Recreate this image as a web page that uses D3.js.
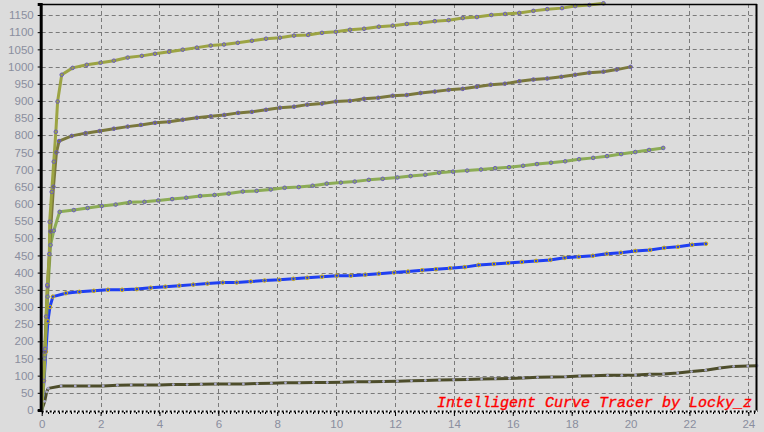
<!DOCTYPE html>
<html><head><meta charset="utf-8">
<script src="https://cdn.jsdelivr.net/npm/d3@7"></script>
<style>
html,body{margin:0;padding:0;background:#dcdcdc;}
svg{display:block;}
</style></head>
<body>
<svg id="chart" width="764" height="432"></svg>
<script>
// ---- data ----
const xTickValues = [0,2,4,6,8,10,12,14,16,18,20,22,24];
const yTickValues = [0,50,100,150,200,250,300,350,400,450,500,550,600,650,700,750,800,850,900,950,1000,1050,1100,1150];
const watermark = "Intelligent Curve Tracer by Locky_z";

const series1 = [[0,0],[0.07,85],[0.12,178],[0.15,272],[0.19,364],[0.26,454],[0.27,548],[0.34,635],[0.41,723],[0.48,810],[0.54,898],[0.68,976],[1.05,996],[1.53,1005],[2.0,1011],[2.45,1017],[2.92,1026],[3.40,1031],[3.85,1037],[4.33,1043],[4.79,1049],[5.27,1055],[5.74,1061],[6.19,1064],[6.66,1069],[7.14,1075],[7.62,1081],[8.09,1084],[8.57,1090],[9.05,1092],[9.52,1098],[9.99,1101],[10.47,1107],[10.95,1110],[11.45,1116],[11.92,1119],[12.40,1124],[12.87,1127],[13.35,1132],[13.82,1135],[14.30,1141],[14.78,1144],[15.27,1150],[15.74,1153],[16.22,1156],[16.70,1162],[17.17,1167],[17.67,1170],[18.12,1176],[18.60,1179],[19.08,1184]];

const series2 = [[0,0],[0.1,170],[0.2,360],[0.3,520],[0.4,650],[0.5,750],[0.59,783],[1.02,798],[1.49,806],[1.97,812],[2.45,819],[2.92,825],[3.37,830],[3.85,836],[4.33,839],[4.79,845],[5.27,851],[5.74,855],[6.20,859],[6.67,865],[7.14,868],[7.62,874],[8.09,880],[8.57,883],[9.02,889],[9.52,892],[9.99,898],[10.47,900],[10.95,906],[11.43,909],[11.92,915],[12.40,917],[12.87,923],[13.35,927],[13.82,932],[14.30,935],[14.78,941],[15.25,947],[15.73,950],[16.22,957],[16.70,962],[17.17,965],[17.65,970],[18.12,976],[18.60,982],[19.08,985],[19.53,991],[20.0,999]];

const series3 = [[0,0],[0.1,150],[0.2,330],[0.3,480],[0.41,522],[0.61,577],[1.09,582],[1.56,588],[2.04,594],[2.51,598],[2.99,605],[3.49,606],[3.96,610],[4.43,614],[4.91,618],[5.38,623],[5.87,626],[6.35,630],[6.83,636],[7.30,638],[7.78,642],[8.25,647],[8.73,649],[9.20,653],[9.68,659],[10.16,662],[10.63,665],[11.11,670],[11.58,673],[12.08,677],[12.53,681],[13.03,685],[13.50,691],[13.97,694],[14.45,697],[14.92,700],[15.40,704],[15.87,707],[16.35,711],[16.82,716],[17.30,720],[17.78,724],[18.25,730],[18.73,734],[19.20,739],[19.68,745],[20.16,751],[20.63,757],[21.11,763]];

const series4 = [[0,0],[0.08,85],[0.14,170],[0.21,258],[0.28,300],[0.38,330],[0.82,340],[1.28,344],[1.77,347],[2.25,350],[2.73,350],[3.23,352],[3.70,356],[4.20,359],[4.67,362],[5.15,365],[5.63,368],[6.15,371],[6.62,371],[7.10,374],[7.57,377],[8.07,379],[8.55,382],[9.02,385],[9.52,388],[10.02,391],[10.50,391],[10.99,394],[11.45,397],[11.97,400],[12.44,403],[12.92,407],[13.39,410],[13.87,413],[14.37,416],[14.84,422],[15.36,425],[15.84,428],[16.31,431],[16.79,434],[17.27,437],[17.76,443],[18.24,446],[18.72,449],[19.19,455],[19.67,458],[20.16,463],[20.66,466],[21.14,472],[21.61,475],[22.09,481],[22.56,484]];

const series5 = [[0,0],[0.1,25],[0.17,53],[0.22,63],[0.66,70],[1.14,70],[1.61,70],[2.09,70],[2.57,72],[3.04,73],[3.52,73],[3.99,73],[4.47,74],[4.94,74],[5.42,75],[5.90,76],[6.37,76],[6.85,76],[7.32,77],[7.80,78],[8.28,79],[8.75,79],[9.23,80],[9.70,80],[10.18,81],[10.65,82],[11.13,82],[11.61,83],[12.08,84],[12.56,85],[13.03,86],[13.51,87],[13.99,88],[14.46,89],[14.94,90],[15.41,91],[15.89,92],[16.36,93],[16.84,95],[17.32,96],[17.79,97],[18.27,99],[18.74,100],[19.22,101],[19.70,101],[20.17,102],[20.65,104],[21.12,105],[21.60,108],[22.07,112],[22.55,116],[23.03,122],[23.50,127],[23.98,128],[24.30,129]];

// ---- chart ----
const svg = d3.select("#chart");
const L = 41.7, R = 756, T = 4, B = 410;
const x = d3.scaleLinear().domain([0, 24.26]).range([L, R]);
const y = d3.scaleLinear().domain([0, 1182]).range([B, T]);

svg.append("rect").attr("width",764).attr("height",432).attr("fill","#dcdcdc");

// grid
const grid = svg.append("g").attr("stroke","#7a7a7a").attr("stroke-width",1).attr("stroke-dasharray","4,3");
grid.selectAll("line.h").data(yTickValues.filter(v=>v>0)).join("line")
  .attr("x1",L).attr("x2",R).attr("y1",d=>Math.round(y(d))+0.5).attr("y2",d=>Math.round(y(d))+0.5);
grid.selectAll("line.v").data(xTickValues.filter(v=>v>0)).join("line")
  .attr("y1",T).attr("y2",B+1).attr("x1",d=>Math.round(x(d))+0.5).attr("x2",d=>Math.round(x(d))+0.5);

// series
const line = d3.line().x(d=>x(d[0])).y(d=>y(d[1]));
const specs = [
  {data:series5, color:"#4d4d2b", mfill:"#a9a9c6", mstroke:"none", r:1.4, w:3},
  {data:series4, color:"#1f3ff2", mfill:"#1f3ff2", mstroke:"#d8b400", r:1.8, w:3},
  {data:series3, color:"#8cac55", mfill:"#8cac55", mstroke:"#6a5cc0", r:1.8, w:3},
  {data:series2, color:"#7a783c", mfill:"#7a783c", mstroke:"#6a5cc0", r:1.8, w:3},
  {data:series1, color:"#9ca443", mfill:"#9ca443", mstroke:"#6a5cc0", r:1.8, w:3}
];
specs.forEach(s=>{
  svg.append("path").datum(s.data).attr("d",line).attr("fill","none")
    .attr("stroke",s.color).attr("stroke-width",s.w).attr("stroke-linejoin","round");
});
specs.forEach(s=>{
  svg.append("g").selectAll("circle").data(s.data.slice(1)).join("circle")
    .attr("cx",d=>x(d[0])).attr("cy",d=>y(d[1])).attr("r",s.r)
    .attr("fill",s.mfill).attr("stroke",s.mstroke).attr("stroke-width",1);
});

// borders
svg.append("line").attr("x1",L).attr("x2",R+1).attr("y1",T+0.5).attr("y2",T+0.5).attr("stroke","#000").attr("stroke-width",1.5);
svg.append("line").attr("x1",R+0.5).attr("x2",R+0.5).attr("y1",T).attr("y2",B+2).attr("stroke","#000").attr("stroke-width",2);
svg.append("line").attr("x1",L).attr("x2",R+1).attr("y1",B+1.5).attr("y2",B+1.5).attr("stroke","#fff").attr("stroke-width",2);
svg.append("line").attr("x1",L).attr("x2",R+1).attr("y1",B+1.5).attr("y2",B+1.5).attr("stroke","#000").attr("stroke-width",2).attr("stroke-dasharray","2,2");

// y axis
const yAxis = d3.axisLeft(y).tickValues(yTickValues).tickFormat(d3.format("d")).tickSize(3).tickPadding(4);
const gy = svg.append("g").attr("transform",`translate(${L-1},0)`).call(yAxis);
gy.select(".domain").attr("stroke","#000").attr("stroke-width",3);
gy.selectAll(".tick line").attr("stroke","#000");
gy.selectAll("text").attr("fill","#8a8e9e").style("font-family","'Liberation Sans', Arial, sans-serif").style("font-size","11.5px");

// x axis
const xAxis = d3.axisBottom(x).tickValues(xTickValues).tickFormat(d3.format("d")).tickSize(4).tickPadding(4);
const gx = svg.append("g").attr("transform",`translate(0,${B+2})`).call(xAxis);
gx.select(".domain").remove();
gx.selectAll(".tick line").attr("stroke","#000");
gx.selectAll("text").attr("fill","#8a8e9e").style("font-family","'Liberation Sans', Arial, sans-serif").style("font-size","11.5px");
const minor = d3.range(0, 122).map(i=>i*0.2).filter(v=>v<=24.26);
svg.append("g").selectAll("line").data(minor).join("line")
  .attr("x1",d=>Math.round(x(d))+0.5).attr("x2",d=>Math.round(x(d))+0.5)
  .attr("y1",B+2).attr("y2",B+4).attr("stroke","#000").attr("stroke-width",1);

// watermark
svg.append("text").attr("x",437).attr("y",406.5).text(watermark)
  .attr("fill","#ff0000").attr("stroke","#ff0000").attr("stroke-width",0.35)
  .style("font-family","'Liberation Mono', 'DejaVu Sans Mono', monospace")
  .style("font-style","italic").style("font-size","15px");
</script>
</body></html>
